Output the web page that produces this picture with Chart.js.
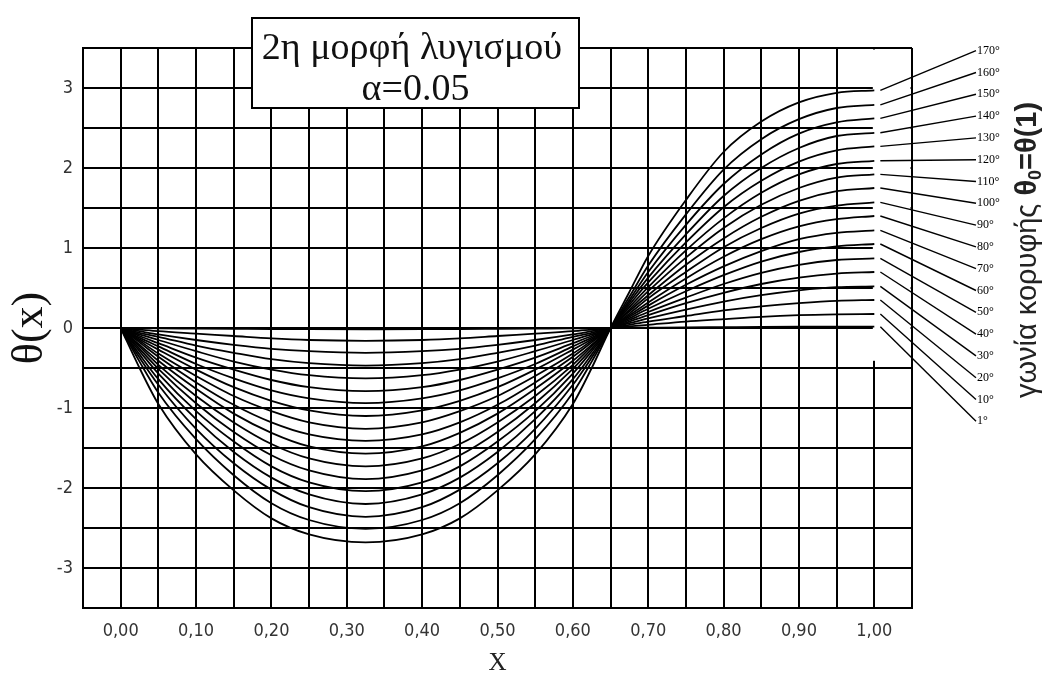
<!DOCTYPE html>
<html lang="el">
<head>
<meta charset="UTF-8">
<title>2η μορφή λυγισμού</title>
<script src="https://cdn.jsdelivr.net/npm/chart.js"></script>
<style>
  html, body { margin: 0; padding: 0; background: #fff; }
  #wrap { width: 1046px; height: 676px; }
</style>
</head>
<body>
<div id="wrap"><canvas id="chart" width="1046" height="676"></canvas></div>
<script>
// θέσεις κατά μήκος της ράβδου
const xPos = [0, 0.025, 0.05, 0.1, 0.15, 0.2, 0.25, 0.325, 0.4, 0.45, 0.5, 0.55, 0.6, 0.625, 0.65,
              0.675, 0.7, 0.75, 0.8, 0.85, 0.9, 0.95, 1.0];

// γωνία κορυφής (ετικέτες δεξιά, από πάνω προς τα κάτω)
const angleLabels = ['170°', '160°', '150°', '140°', '130°', '120°', '110°', '100°', '90°',
                     '80°', '70°', '60°', '50°', '40°', '30°', '20°', '10°', '1°'];

// θ(x) για κάθε γωνία κορυφής
const th170 = [0, -0.50, -0.95, -1.58, -2.03, -2.38, -2.58, -2.68, -2.58, -2.38, -2.03, -1.58, -0.95, -0.50, 0, 0.45, 0.90, 1.60, 2.20, 2.58, 2.82, 2.94, 2.97];
const th160 = [0, -0.42, -0.81, -1.39, -1.84, -2.19, -2.40, -2.51, -2.40, -2.19, -1.84, -1.39, -0.81, -0.42, 0, 0.39, 0.78, 1.42, 1.98, 2.36, 2.61, 2.75, 2.79];
const th150 = [0, -0.37, -0.71, -1.26, -1.69, -2.02, -2.24, -2.36, -2.24, -2.02, -1.69, -1.26, -0.71, -0.37, 0, 0.35, 0.70, 1.29, 1.80, 2.17, 2.43, 2.57, 2.62];
const th140 = [0, -0.33, -0.64, -1.14, -1.55, -1.87, -2.08, -2.20, -2.08, -1.87, -1.55, -1.14, -0.64, -0.33, 0, 0.32, 0.63, 1.17, 1.65, 2.00, 2.25, 2.40, 2.44];
const th130 = [0, -0.29, -0.57, -1.04, -1.42, -1.73, -1.93, -2.04, -1.93, -1.73, -1.42, -1.04, -0.57, -0.29, 0, 0.29, 0.57, 1.07, 1.51, 1.84, 2.08, 2.22, 2.27];
const th120 = [0, -0.26, -0.51, -0.94, -1.30, -1.59, -1.78, -1.89, -1.78, -1.59, -1.30, -0.94, -0.51, -0.26, 0, 0.26, 0.51, 0.97, 1.37, 1.69, 1.92, 2.05, 2.09];
const th110 = [0, -0.23, -0.46, -0.85, -1.18, -1.45, -1.63, -1.73, -1.63, -1.45, -1.18, -0.85, -0.46, -0.23, 0, 0.23, 0.46, 0.88, 1.25, 1.54, 1.75, 1.88, 1.92];
const th100 = [0, -0.21, -0.41, -0.76, -1.07, -1.31, -1.48, -1.57, -1.48, -1.31, -1.07, -0.76, -0.41, -0.21, 0, 0.21, 0.41, 0.79, 1.12, 1.39, 1.59, 1.71, 1.75];
const th90  = [0, -0.18, -0.36, -0.68, -0.96, -1.18, -1.33, -1.41, -1.33, -1.18, -0.96, -0.68, -0.36, -0.18, 0, 0.18, 0.37, 0.70, 1.01, 1.25, 1.43, 1.53, 1.57];
const th80  = [0, -0.16, -0.32, -0.60, -0.85, -1.04, -1.18, -1.26, -1.18, -1.04, -0.85, -0.60, -0.32, -0.16, 0, 0.16, 0.32, 0.62, 0.89, 1.11, 1.27, 1.36, 1.40];
const th70  = [0, -0.14, -0.27, -0.52, -0.74, -0.91, -1.03, -1.10, -1.03, -0.91, -0.74, -0.52, -0.27, -0.14, 0, 0.14, 0.28, 0.54, 0.77, 0.96, 1.11, 1.19, 1.22];
const th60  = [0, -0.12, -0.23, -0.45, -0.63, -0.78, -0.88, -0.94, -0.88, -0.78, -0.63, -0.45, -0.23, -0.12, 0, 0.12, 0.24, 0.46, 0.66, 0.83, 0.95, 1.02, 1.05];
const th50  = [0, -0.10, -0.19, -0.37, -0.52, -0.65, -0.74, -0.79, -0.74, -0.65, -0.52, -0.37, -0.19, -0.10, 0, 0.10, 0.20, 0.38, 0.55, 0.69, 0.79, 0.85, 0.87];
const th40  = [0, -0.08, -0.15, -0.29, -0.42, -0.52, -0.59, -0.63, -0.59, -0.52, -0.42, -0.29, -0.15, -0.08, 0, 0.08, 0.16, 0.31, 0.44, 0.55, 0.63, 0.68, 0.70];
const th30  = [0, -0.06, -0.11, -0.22, -0.31, -0.39, -0.44, -0.47, -0.44, -0.39, -0.31, -0.22, -0.11, -0.06, 0, 0.06, 0.12, 0.23, 0.33, 0.41, 0.47, 0.51, 0.52];
const th20  = [0, -0.04, -0.08, -0.15, -0.21, -0.26, -0.29, -0.31, -0.29, -0.26, -0.21, -0.15, -0.08, -0.04, 0, 0.04, 0.08, 0.15, 0.22, 0.27, 0.31, 0.34, 0.35];
const th10  = [0, -0.02, -0.04, -0.07, -0.10, -0.13, -0.15, -0.16, -0.15, -0.13, -0.10, -0.07, -0.04, -0.02, 0, 0.02, 0.04, 0.08, 0.11, 0.14, 0.16, 0.17, 0.175];
const th1   = [0, -0.002, -0.004, -0.007, -0.010, -0.013, -0.015, -0.016, -0.015, -0.013, -0.010, -0.007, -0.004, -0.002, 0, 0.002, 0.004, 0.008, 0.011, 0.014, 0.016, 0.017, 0.017];

const series = [th170, th160, th150, th140, th130, th120, th110, th100, th90,
                th80, th70, th60, th50, th40, th30, th20, th10, th1];

const tickFont = { family: '"DejaVu Sans Condensed", "DejaVu Sans", sans-serif', size: 18 };
const serif = '"Liberation Serif", "Times New Roman", serif';

// διακοσμήσεις: λευκό κομμάτι δεξιά, γραμμές ετικετών, πλαίσιο τίτλου, κάθετη λεζάντα
const decor = {
    id: 'decor',
    beforeDatasetsDraw(chart) {
        const { ctx, chartArea, scales: { x, y } } = chart;
        const left = x.getPixelForValue(1.0) - 1.5;
        const bottom = y.getPixelForValue(-0.41);
        ctx.save();
        ctx.fillStyle = '#fff';
        ctx.fillRect(left, chartArea.top + 1.5, chartArea.right - 1.5 - left, bottom - chartArea.top - 1.5);
        ctx.restore();
    },
    afterDatasetsDraw(chart) {
        const { ctx, chartArea, scales: { x, y } } = chart;
        ctx.save();
        ctx.strokeStyle = '#000';
        ctx.lineWidth = 1.4;
        ctx.fillStyle = '#000';
        ctx.font = '12px ' + serif;
        ctx.textBaseline = 'middle';
        ctx.textAlign = 'left';
        series.forEach((s, k) => {
            const sx = x.getPixelForValue(1.008);
            const sy = y.getPixelForValue(s[s.length - 1]);
            const ex = chartArea.right + 64;
            const ey = chartArea.top + 2.7 + k * 21.8;
            ctx.beginPath();
            ctx.moveTo(sx, sy);
            ctx.lineTo(ex, ey);
            ctx.stroke();
            ctx.fillText(angleLabels[k], ex + 1, ey);
        });
        ctx.restore();
    },
    afterDraw(chart) {
        const ctx = chart.ctx;
        // πλαίσιο τίτλου
        ctx.save();
        ctx.fillStyle = '#fff';
        ctx.fillRect(252, 18, 327, 90);
        ctx.strokeStyle = '#000';
        ctx.lineWidth = 2;
        ctx.strokeRect(252, 18, 327, 90);
        ctx.fillStyle = '#111';
        ctx.font = '38px ' + serif;
        ctx.textAlign = 'center';
        ctx.textBaseline = 'alphabetic';
        ctx.fillText('2η μορφή λυγισμού', 412, 59);
        ctx.fillText('α=0.05', 415.5, 100);
        ctx.restore();

        // κάθετη λεζάντα δεξιά
        ctx.save();
        ctx.translate(1028, 250);
        ctx.rotate(-Math.PI / 2);
        ctx.fillStyle = '#222';
        ctx.textBaseline = 'middle';
        ctx.textAlign = 'left';
        const sans = '"Liberation Sans", Arial, sans-serif';
        const parts = [
            ['γωνία κορυφής ', '29px ' + sans, 0],
            ['θ', 'bold 29px ' + sans, 0],
            ['0', 'bold 18px ' + sans, 8],
            ['=θ(1)', 'bold 29px ' + sans, 0]
        ];
        let total = 0;
        parts.forEach(p => { ctx.font = p[1]; total += ctx.measureText(p[0]).width; });
        let cx = -total / 2;
        parts.forEach(p => {
            ctx.font = p[1];
            ctx.fillText(p[0], cx, p[2]);
            cx += ctx.measureText(p[0]).width;
        });
        ctx.restore();
    }
};

const datasets = series.map((s, k) => ({
    label: angleLabels[k],
    data: xPos.map((xv, i) => ({ x: xv, y: s[i] })),
    borderColor: '#000',
    borderWidth: 1.8,
    pointRadius: 0,
    fill: false,
    cubicInterpolationMode: 'monotone'
}));

new Chart(document.getElementById('chart'), {
    type: 'line',
    data: { datasets },
    plugins: [decor],
    options: {
        responsive: false,
        animation: false,
        events: [],
        layout: { padding: { top: 48, right: 134, left: 0, bottom: 0 } },
        plugins: { legend: { display: false }, tooltip: { enabled: false } },
        scales: {
            x: {
                type: 'linear',
                min: -0.05,
                max: 1.05,
                afterFit: s => { s.height = 68; },
                grid: { color: '#000', lineWidth: 2, drawTicks: false },
                border: { display: true, color: '#000', width: 2 },
                ticks: {
                    stepSize: 0.05,
                    autoSkip: false,
                    maxRotation: 0,
                    padding: 13,
                    color: '#333',
                    font: tickFont,
                    callback: v => {
                        const k = Math.round(v * 100);
                        return (k % 10 === 0 && k >= 0 && k <= 100) ? (k / 100).toFixed(2).replace('.', ',') : '';
                    }
                },
                title: {
                    display: true,
                    text: 'X',
                    color: '#222',
                    font: { family: serif, size: 25, lineHeight: 1 },
                    padding: { top: 0, bottom: 0 }
                }
            },
            y: {
                min: -3.5,
                max: 3.5,
                afterFit: s => { s.width = 83; },
                grid: { color: '#000', lineWidth: 2, drawTicks: false },
                border: { display: true, color: '#000', width: 2 },
                ticks: {
                    stepSize: 0.5,
                    autoSkip: false,
                    padding: 10,
                    color: '#333',
                    font: tickFont,
                    callback: v => (Number.isInteger(v) && Math.abs(v) < 3.5) ? String(v) : ''
                },
                title: {
                    display: true,
                    text: 'θ(x)',
                    color: '#111',
                    font: { family: serif, size: 44, lineHeight: 1 },
                    padding: { top: 8, bottom: 0 }
                }
            }
        }
    }
});
</script>
</body>
</html>
